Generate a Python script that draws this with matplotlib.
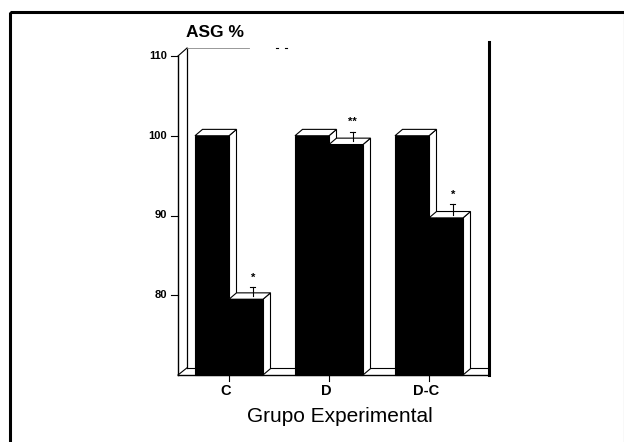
import matplotlib
matplotlib.use("Agg")
import matplotlib.pyplot as plt
from matplotlib.patches import Polygon, Rectangle
import numpy as np

plt.rcParams['font.family'] = ['Liberation Sans', 'DejaVu Sans']

# ---- data ----
groups = ["C", "D", "D-C"]
control = [100.0, 100.0, 100.0]
treated = [79.5, 98.9, 89.7]
treated_err = [1.1, 1.2, 1.3]
stars = ["*", "**", "*"]
yticks = [80, 90, 100, 110]
ylabel = "ASG %"
xlabel = "Grupo Experimental"

W, H = 624, 442
fig = plt.figure(figsize=(W / 100, H / 100), dpi=100)

# outer frame
frame = fig.add_axes([0, 0, 1, 1])
frame.set_xlim(0, W)
frame.set_ylim(H, 0)
frame.axis("off")
frame.add_patch(Rectangle((10, 12), W - 9, H, fill=False, lw=2.2, ec="black"))

# main axes (pixel box: x 178..490, y 56..375)
L, R, T, B = 178, 490, 56, 375
ax = fig.add_axes([L / W, (H - B) / H, (R - L) / W, (B - T) / H])
ax.set_xlim(-0.51, 2.61)
ax.set_ylim(70, 110)
ax.axis("off")

bw = 0.34          # bar width (data units)
dx, dy = 0.075, 0.8  # 3D depth offsets
base = 70
lw = 0.8

def bar3d(x0, x1, top, zorder):
    # right side
    ax.add_patch(Polygon([(x1, base), (x1 + dx, base + dy), (x1 + dx, top + dy), (x1, top)],
                         closed=True, fc="white", ec="black", lw=lw, zorder=zorder, clip_on=False))
    # top face
    ax.add_patch(Polygon([(x0, top), (x0 + dx, top + dy), (x1 + dx, top + dy), (x1, top)],
                         closed=True, fc="white", ec="black", lw=lw, zorder=zorder, clip_on=False))
    # front
    ax.add_patch(Rectangle((x0, base), x1 - x0, top - base, fc="black", ec="black",
                           lw=lw, zorder=zorder + 0.5, clip_on=False))

# back wall / floor lines
ax.plot([-0.51, -0.51], [70, 110], color="black", lw=1.0, clip_on=False)
ax.plot([-0.51 + 0.09, -0.51 + 0.09], [70 + 0.9, 110 + 1.0], color="black", lw=0.9, clip_on=False)
ax.plot([-0.51, -0.51 + 0.09], [110, 111], color="black", lw=0.8, clip_on=False)
ax.plot([-0.51, -0.51 + 0.09], [70, 70.9], color="black", lw=0.8, clip_on=False)
ax.plot([-0.42, 0.2], [111, 111], color="#888888", lw=0.6, clip_on=False)
ax.plot([0.47, 0.49], [111, 111], color="black", lw=0.8, clip_on=False)
ax.plot([0.56, 0.58], [111, 111], color="black", lw=0.8, clip_on=False)
ax.plot([-0.51, 2.6], [70, 70], color="black", lw=1.0, clip_on=False)
ax.plot([-0.42, 2.6], [70.9, 70.9], color="black", lw=0.8, clip_on=False)
ax.plot([2.6, 2.6], [70, 111.8], color="black", lw=2.2, clip_on=False)

# y ticks
for v in yticks:
    ax.plot([-0.58, -0.51], [v, v], color="black", lw=0.8, clip_on=False)
    ax.text(-0.62, v, str(v), ha="right", va="center", fontsize=8, fontweight="bold")

ax.text(-0.43, 112.0, ylabel, ha="left", va="bottom", fontsize=12.5, fontweight="bold")

pos = np.arange(len(groups))
for i, x in enumerate(pos):
    bar3d(x - bw, x, control[i], zorder=2)
    bar3d(x + 0.0, x + bw, treated[i], zorder=3)
    ex = x + bw / 2 + dx / 2 + 0.03
    ytop = treated[i] + dy / 2
    ax.plot([ex, ex], [ytop, ytop + treated_err[i]], color="black", lw=0.8, zorder=5, clip_on=False)
    ax.plot([ex - 0.025, ex + 0.025], [ytop + treated_err[i]] * 2, color="black", lw=0.8, zorder=5, clip_on=False)
    ax.text(ex, ytop + treated_err[i] + 0.6, stars[i], ha="center", va="bottom",
            fontsize=8, fontweight="bold", zorder=5)
    ax.plot([x, x], [70, 69.3], color="black", lw=0.8, clip_on=False)
    ax.text(x - 0.03, 68.9, groups[i], ha="center", va="top", fontsize=10.5, fontweight="bold")

fig.text(340 / W, 1 - 417 / H, xlabel, ha="center", va="center", fontsize=15)

fig.savefig("out.png", dpi=100)
